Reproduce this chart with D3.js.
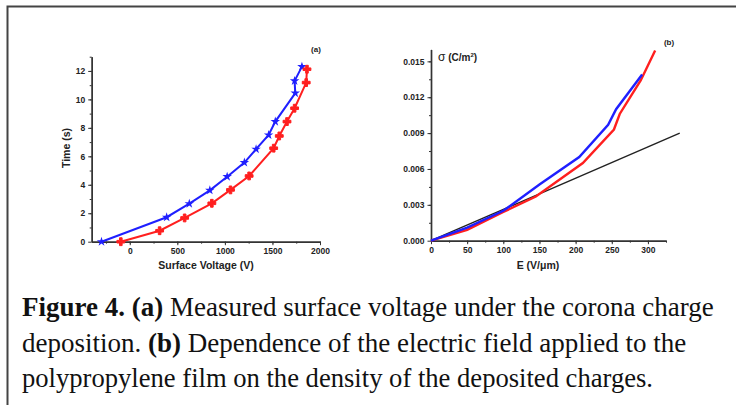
<html>
<head>
<style>
  body { margin: 0; background: #fff; }
  svg { display: block; }
  .tick text { font-family: 'Liberation Sans', Arial, Helvetica, sans-serif; font-weight: bold; font-size: 8.5px; fill: #222; }
  .axis path, .axis line { stroke: #333; }
  .lab { font-family: 'Liberation Sans', Arial, Helvetica, sans-serif; font-weight: bold; fill: #222; }
  .cap { font-family: 'Liberation Serif', 'Times New Roman', Times, serif; fill: #111; }
</style>
</head>
<body>
<svg id="fig" width="736" height="405"></svg>
<script src="https://d3js.org/d3.v7.min.js"></script>
<script>
// panel (a): surface voltage (V) vs time (s)
var blueVolt = [-297, 388, 626, 842, 1024, 1205, 1328, 1460, 1530, 1740, 1733, 1810];
var blueTime = [0, 1.72, 2.67, 3.61, 4.57, 5.56, 6.5, 7.5, 8.44, 10.44, 11.3, 12.3];
var redVolt = [-94, 314, 577, 863, 1059, 1255, 1513, 1572, 1653, 1733, 1855, 1863];
var redTime = [0, 0.77, 1.67, 2.7, 3.64, 4.62, 6.57, 7.43, 8.44, 9.38, 11.18, 12.12];
var aVoltTicks = [0, 500, 1000, 1500, 2000];
var aTimeTicks = [0, 2, 4, 6, 8, 10, 12];

// panel (b): field E (V/um) vs charge density sigma (C/m2)
var blueE = [0, 50, 100, 150, 205, 245, 256, 292];
var blueSigma = [0, 0.0011, 0.0025, 0.0047, 0.0070, 0.0097, 0.0110, 0.0139];
var redE = [0, 50, 100, 145, 210, 253, 261, 290, 310];
var redSigma = [0, 0.0009, 0.0024, 0.0037, 0.0065, 0.0093, 0.0106, 0.0134, 0.0159];
var lineE = [0, 344];
var lineSigma = [0, 0.009];
var bETicks = [0, 50, 100, 150, 200, 250, 300];
var bSigmaTicks = [0, 0.003, 0.006, 0.009, 0.012, 0.015];

var captionLines = [
  [["Figure 4. (a)", true], [" Measured surface voltage under the corona charge", false]],
  [["deposition. ", false], ["(b)", true], [" Dependence of the electric field applied to the", false]],
  [["polypropylene film on the density of the deposited charges.", false]]
];

var svg = d3.select("#fig");
var blue = "#1f1fff", red = "#ff1f1f";

// frame (open to the right and bottom)
svg.append("path").attr("d", "M7.5,405 L7.5,6.5 L736,6.5")
  .attr("fill", "none").attr("stroke", "#444").attr("stroke-width", 2);

function zip(a, b) { return a.map(function(v, i) { return [v, b[i]]; }); }

function drawAxes(g, x, y, xt, yt, xMinor, yMinor, xFmt, yFmt) {
  var y0 = y.range()[0], x0 = x.range()[0];
  g.append("g").attr("class", "axis").attr("transform", "translate(0," + y0 + ")")
    .call(d3.axisBottom(x).tickValues(xMinor).tickSize(2).tickFormat("").tickSizeOuter(0));
  g.append("g").attr("class", "axis").attr("transform", "translate(0," + y0 + ")")
    .call(d3.axisBottom(x).tickValues(xt).tickSize(3.5).tickPadding(3).tickSizeOuter(0).tickFormat(xFmt));
  g.append("g").attr("class", "axis").attr("transform", "translate(" + x0 + ",0)")
    .call(d3.axisLeft(y).tickValues(yMinor).tickSize(2).tickFormat("").tickSizeOuter(0));
  g.append("g").attr("class", "axis").attr("transform", "translate(" + x0 + ",0)")
    .call(d3.axisLeft(y).tickValues(yt).tickSize(3.5).tickPadding(3).tickSizeOuter(0).tickFormat(yFmt));
  g.selectAll(".axis").attr("font-family", null).attr("font-size", null);
  g.selectAll(".axis path.domain").attr("stroke-width", 1.4);
  g.selectAll(".axis .tick line").attr("stroke-width", 1);
}

// ---------- panel (a)
var ga = svg.append("g");
var xa = d3.scaleLinear().domain([-400, 2000]).range([91.7, 320]);
var ya = d3.scaleLinear().domain([0, 13]).range([241.7, 56.7]);
drawAxes(ga, xa, ya, aVoltTicks, aTimeTicks,
  d3.range(-250, 2001, 250), d3.range(1, 13.1, 1), d3.format("d"), d3.format("d"));

var lineA = d3.line().x(function(d) { return xa(d[0]); }).y(function(d) { return ya(d[1]); });
ga.append("path").datum(zip(blueVolt, blueTime)).attr("d", lineA)
  .attr("fill", "none").attr("stroke", blue).attr("stroke-width", 2);
ga.append("path").datum(zip(redVolt, redTime)).attr("d", lineA)
  .attr("fill", "none").attr("stroke", red).attr("stroke-width", 2);
ga.selectAll(".bs").data(zip(blueVolt, blueTime)).enter().append("path")
  .attr("d", d3.symbol().type(d3.symbolStar).size(28))
  .attr("transform", function(d) { return "translate(" + xa(d[0]) + "," + ya(d[1]) + ")"; })
  .attr("fill", blue);
ga.selectAll(".rs").data(zip(redVolt, redTime)).enter().append("path")
  .attr("d", d3.symbol().type(d3.symbolCross).size(34))
  .attr("transform", function(d) { return "translate(" + xa(d[0]) + "," + ya(d[1]) + ")"; })
  .attr("fill", red).attr("stroke", red).attr("stroke-width", 1).attr("stroke-linejoin", "round");

ga.append("text").attr("class", "lab").attr("x", 206).attr("y", 269).attr("text-anchor", "middle")
  .style("font-size", "10.5px").text("Surface Voltage (V)");
ga.append("text").attr("class", "lab").attr("transform", "translate(70,148) rotate(-90)")
  .attr("text-anchor", "middle").style("font-size", "10.5px").text("Time (s)");
ga.append("text").attr("class", "lab").attr("x", 316).attr("y", 52).attr("text-anchor", "middle")
  .style("font-size", "8px").text("(a)");

// ---------- panel (b)
var gb = svg.append("g");
var xb = d3.scaleLinear().domain([0, 325]).range([431, 666]);
var yb = d3.scaleLinear().domain([0, 0.016]).range([240.7, 49.4]);
drawAxes(gb, xb, yb, bETicks, bSigmaTicks,
  d3.range(25, 326, 25), d3.range(0.0015, 0.0161, 0.0015), d3.format("d"), d3.format(".3f"));

var lineB = d3.line().x(function(d) { return xb(d[0]); }).y(function(d) { return yb(d[1]); });
gb.append("path").datum(zip(lineE, lineSigma)).attr("d", lineB)
  .attr("fill", "none").attr("stroke", "#222").attr("stroke-width", 1.4);
gb.append("path").datum(zip(redE, redSigma)).attr("d", lineB)
  .attr("fill", "none").attr("stroke", red).attr("stroke-width", 2.4);
gb.append("path").datum(zip(blueE, blueSigma)).attr("d", lineB)
  .attr("fill", "none").attr("stroke", blue).attr("stroke-width", 2.4);

gb.append("text").attr("class", "lab").attr("x", 538).attr("y", 269).attr("text-anchor", "middle")
  .style("font-size", "10.5px").text("E (V/\u03bcm)");
var sig = gb.append("text").attr("class", "lab").attr("x", 438).attr("y", 61).style("font-size", "10px");
sig.append("tspan").style("font-weight", "normal").style("font-size", "12px").text("\u03c3");
sig.append("tspan").text(" (C/m");
sig.append("tspan").attr("dy", -4).style("font-size", "6px").text("2");
sig.append("tspan").attr("dy", 4).text(")");
gb.append("text").attr("class", "lab").attr("x", 669).attr("y", 45).attr("text-anchor", "middle")
  .style("font-size", "8px").text("(b)");

// ---------- caption
var capY = [316, 352, 387];
var capW = [689, 662, 631];
captionLines.forEach(function(parts, i) {
  var t = svg.append("text").attr("class", "cap").attr("x", 22).attr("y", capY[i])
    .style("font-size", "27px");
  parts.forEach(function(p) {
    t.append("tspan").style("font-weight", p[1] ? "bold" : "normal").text(p[0]);
  });
  var w = t.node().getComputedTextLength();
  if (Math.abs(w - capW[i]) > 3) t.attr("textLength", capW[i]).attr("lengthAdjust", "spacingAndGlyphs");
});
</script>
</body>
</html>
